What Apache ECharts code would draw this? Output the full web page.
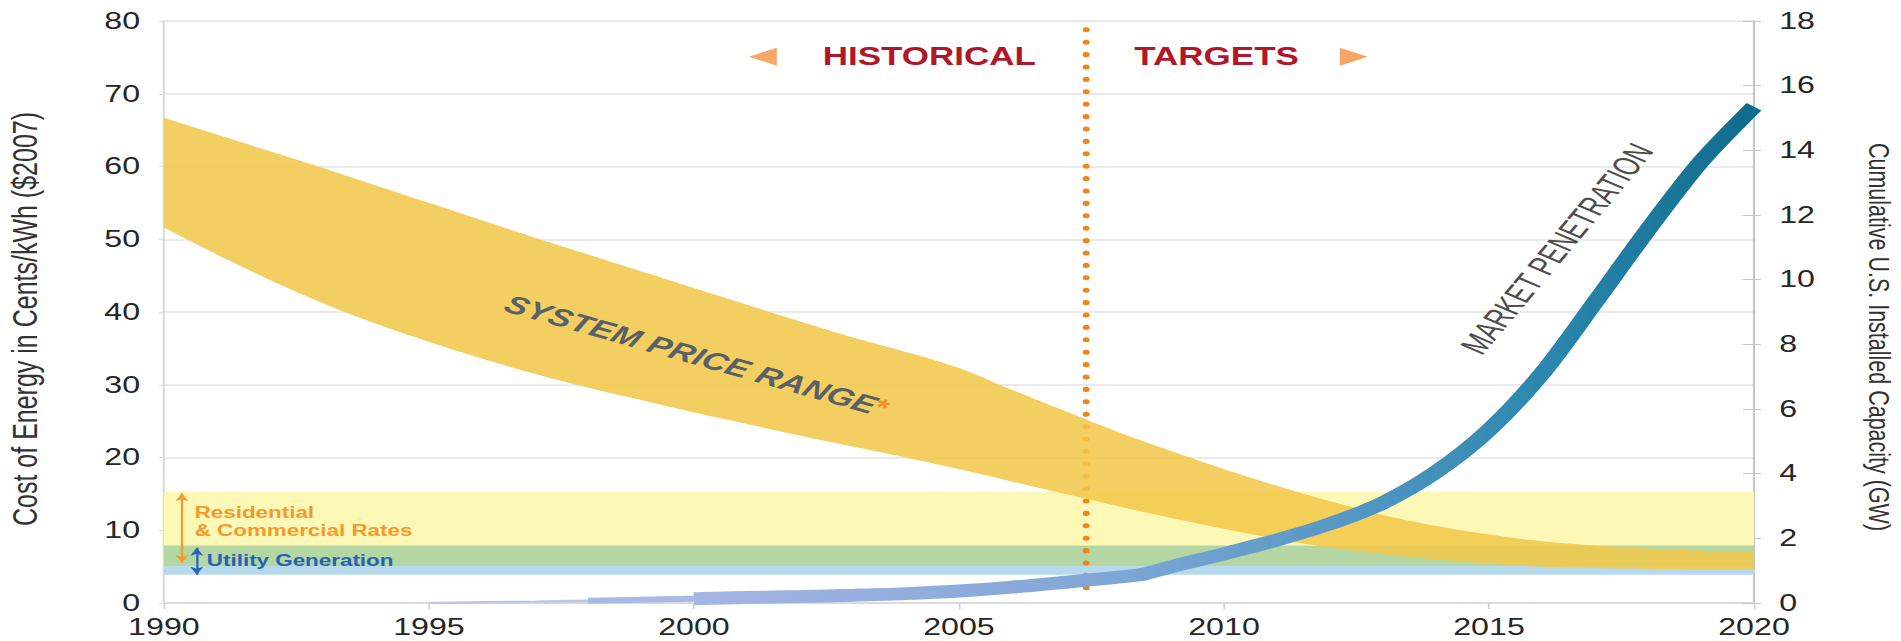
<!DOCTYPE html>
<html>
<head>
<meta charset="utf-8">
<script src="https://cdn.jsdelivr.net/npm/echarts/dist/echarts.min.js"></script>
<style>
html,body{margin:0;padding:0;background:#fff;overflow:hidden;}
#wrap{width:1901px;height:641px;overflow:hidden;position:relative;}
#chart{width:1358px;height:641px;transform:scaleX(1.39985);transform-origin:0 0;}
</style>
</head>
<body>
<div id="wrap"><div id="chart"></div></div>
<script>
// ---------- DATA ----------
const xTicks = [1990, 1995, 2000, 2005, 2010, 2015, 2020];
const leftTicks = [0, 10, 20, 30, 40, 50, 60, 70, 80];
const rightTicks = [0, 2, 4, 6, 8, 10, 12, 14, 16, 18];

const years = [1990,1991,1992,1993,1994,1995,1996,1997,1998,1999,2000,2001,2002,2003,2004,2005,2006,2007,2008,2009,2010,2011,2012,2013,2014,2015,2016,2017,2018,2019,2020];
// System price range (cents/kWh, $2007)
const priceLow  = [51.6,47.9,44.4,41.2,38.4,35.9,33.6,31.5,29.6,27.9,26.2,24.6,23.0,21.5,20.0,18.4,16.7,15.0,13.3,11.7,10.2,8.8,7.6,6.7,6.0,5.4,5.0,4.8,4.7,4.6,4.6];
const priceHigh = [66.7,64.4,62.1,59.8,57.4,55.0,52.6,50.2,47.9,45.6,43.3,41.0,38.7,36.5,34.5,32.3,29.3,26.4,23.5,20.9,18.4,16.1,14.0,12.1,10.6,9.4,8.5,7.9,7.5,7.2,7.0];

// Market penetration (cumulative GW)
const mpYears  = [1995,1996,1997,1998,1999,2000,2001,2002,2003,2004,2005,2006,2007,2008,2008.5,2009,2010,2011,2012,2013,2014,2015,2016,2017,2018,2019,2020];
const mpValues = [0.0,0.02,0.04,0.07,0.10,0.13,0.17,0.20,0.24,0.29,0.37,0.49,0.64,0.80,0.90,1.12,1.52,1.95,2.45,3.10,4.05,5.35,7.1,9.3,11.55,13.65,15.35];

// Rate ranges (cents/kWh)
const residentialRange = [5.1, 15.3];
const utilityRange = [3.9, 7.9];

// Historical / targets divider
const dividerYear = 2007.4;
const dividerRange = [0.8, 78.8];

// ---------- CHART ----------
const FONT = "'Liberation Sans', Arial, Helvetica, sans-serif";
const chart = echarts.init(document.getElementById('chart'), null, {renderer: 'svg'});

const mpPairs = mpYears.map((y, i) => [y, mpValues[i]]);
const seg1 = mpPairs.filter(p => p[0] <= 1998);
const seg2 = mpPairs.filter(p => p[0] >= 1998 && p[0] <= 2000);
const seg3 = mpPairs.filter(p => p[0] >= 2000);

const overlap = [Math.max(residentialRange[0], utilityRange[0]), Math.min(residentialRange[1], utilityRange[1])];

// Catmull-Rom smoothing of pixel points (rendering only)
function smoothPts(p, steps) {
  const out = [];
  const n = p.length;
  for (let i = 0; i < n - 1; i++) {
    const p0 = p[Math.max(i - 1, 0)], p1 = p[i], p2 = p[i + 1], p3 = p[Math.min(i + 2, n - 1)];
    for (let s = 0; s < steps; s++) {
      const t = s / steps, t2 = t * t, t3 = t2 * t;
      const f = (a, b, c, d) => 0.5 * ((2 * b) + (-a + c) * t + (2 * a - 5 * b + 4 * c - d) * t2 + (-a + 3 * b - 3 * c + d) * t3);
      out.push([f(p0[0], p1[0], p2[0], p3[0]), f(p0[1], p1[1], p2[1], p3[1])]);
    }
  }
  out.push(p[n - 1]);
  return out;
}

const gridLineColor = '#e3e3e3';

const option = {
  animation: false,
  backgroundColor: '#ffffff',
  grid: { left: 117.1, right: 105, top: 21, bottom: 38, containLabel: false, outerBoundsMode: 'none' },
  xAxis: {
    type: 'value',
    min: xTicks[0], max: xTicks[xTicks.length - 1], interval: xTicks[1] - xTicks[0],
    splitLine: { show: false },
    axisLine: { show: true, lineStyle: { color: '#d6d6d6', width: 1.5 } },
    axisTick: { show: true, length: 6, lineStyle: { color: '#cfcfcf', width: 1.2 } },
    axisLabel: { color: '#262626', fontSize: 23, fontFamily: FONT, margin: 13, formatter: v => String(v) }
  },
  yAxis: [
    {
      type: 'value', position: 'left',
      min: leftTicks[0], max: leftTicks[leftTicks.length - 1], interval: leftTicks[1] - leftTicks[0],
      name: 'Cost of Energy in Cents/kWh ($2007)',
      nameLocation: 'middle', nameRotate: 90, nameGap: 87,
      nameTextStyle: { color: '#333', fontSize: 25, lineHeight: 25, fontFamily: FONT, padding: [0, 14, 0, 0] },
      splitLine: { show: true, lineStyle: { color: gridLineColor, width: 1.5 } },
      axisLine: { show: true, lineStyle: { color: '#d9d9d9', width: 1.5 } },
      axisTick: { show: true, length: 3.5, lineStyle: { color: '#dcdcdc' } },
      axisLabel: { color: '#262626', fontSize: 23, fontFamily: FONT, margin: 17 }
    },
    {
      type: 'value', position: 'right',
      min: rightTicks[0], max: rightTicks[rightTicks.length - 1], interval: rightTicks[1] - rightTicks[0],
      name: 'Cumulative U.S. Installed Capacity (GW)',
      nameLocation: 'middle', nameRotate: -90, nameGap: 79,
      nameTextStyle: { color: '#333', fontSize: 21.5, lineHeight: 21.5, fontFamily: FONT, padding: [0, 0, 0, 50] },
      splitLine: { show: false },
      axisLine: { show: true, lineStyle: { color: '#c6c6c6', width: 1.5 } },
      axisTick: { show: true, inside: true, length: 8, lineStyle: { color: '#c8c8c8' } },
      axisLabel: { color: '#262626', fontSize: 23, fontFamily: FONT, margin: 18 }
    },
    {
      type: 'value', position: 'right',
      min: rightTicks[0], max: rightTicks[rightTicks.length - 1], interval: rightTicks[1] - rightTicks[0],
      splitLine: { show: false },
      axisLine: { show: false },
      axisTick: { show: true, inside: false, length: 5, lineStyle: { color: '#c8c8c8' } },
      axisLabel: { show: false }
    }
  ],
  series: [
    // Rate bands
    {
      type: 'line', data: [], z: -1, silent: true,
      markArea: {
        silent: true,
        data: [
          [{ xAxis: xTicks[0], yAxis: overlap[1], itemStyle: { color: '#fdf8b6' } }, { xAxis: xTicks[xTicks.length - 1], yAxis: residentialRange[1] }],
          [{ xAxis: xTicks[0], yAxis: overlap[0], itemStyle: { color: '#b4d6a3' } }, { xAxis: xTicks[xTicks.length - 1], yAxis: overlap[1] }],
          [{ xAxis: xTicks[0], yAxis: utilityRange[0], itemStyle: { color: '#b6d9ec' } }, { xAxis: xTicks[xTicks.length - 1], yAxis: overlap[0] }]
        ]
      }
    },
    // Divider dotted line
    {
      type: 'line', z: 1.5, silent: true, symbol: 'none',
      data: [[dividerYear, dividerRange[1]], [dividerYear, dividerRange[0]]],
      lineStyle: { color: '#f08519', width: 5, type: [0.1, 12.3], cap: 'round' }
    },
    // System price range band
    {
      type: 'custom', coordinateSystem: 'cartesian2d', z: 2, silent: true, clip: true,
      data: years.map((y, i) => [y, priceLow[i], priceHigh[i]]),
      encode: { x: 0, y: [1, 2] },
      renderItem: function (params, api) {
        if (params.dataIndex !== 0) return null;
        const up = years.map((y, i) => api.coord([y, priceHigh[i]]));
        const lo = years.map((y, i) => api.coord([y, priceLow[i]]));
        const pts = smoothPts(up, 10).concat(smoothPts(lo, 10).reverse());
        return { type: 'polygon', shape: { points: pts }, style: { fill: '#f1c84b', opacity: 0.88 } };
      }
    },
    // Market penetration line (tapered start)
    {
      type: 'line', yAxisIndex: 1, z: 3, silent: true, symbol: 'none', smooth: 0.3,
      data: seg1, lineStyle: { width: 2.5, color: '#bcc5ec' }
    },
    {
      type: 'line', yAxisIndex: 1, z: 3, silent: true, symbol: 'none', smooth: 0.3,
      data: seg2, lineStyle: { width: 6, color: '#aab8e6' }
    },
    {
      type: 'line', yAxisIndex: 1, z: 3, silent: true, symbol: 'none', smooth: 0.3,
      data: seg3,
      lineStyle: {
        width: 13, cap: 'butt',
        color: new echarts.graphic.LinearGradient(0, 0, 1, 0, [
          { offset: 0, color: '#a5b5e4' },
          { offset: 0.4, color: '#7fa6d6' },
          { offset: 0.62, color: '#5497c4' },
          { offset: 0.8, color: '#2b87ae' },
          { offset: 1, color: '#0f6c8c' }
        ])
      }
    },
    // Annotations
    {
      type: 'line', data: [], z: 6, silent: true,
      markPoint: {
        silent: true, symbol: 'circle', symbolSize: 0, animation: false,
        data: [
          { coord: [2004.44, 75.15], label: { show: true, position: 'inside', formatter: 'HISTORICAL', color: '#b0182a', fontSize: 25, fontWeight: 'bold', fontFamily: FONT } },
          { coord: [2009.86, 75.15], label: { show: true, position: 'inside', formatter: 'TARGETS', color: '#b0182a', fontSize: 25, fontWeight: 'bold', fontFamily: FONT } },
          { coord: [2001.3, 75.1], symbol: 'triangle', symbolRotate: 90, symbolSize: [18, 20], itemStyle: { color: '#f5a866' }, label: { show: false } },
          { coord: [2012.45, 75.1], symbol: 'triangle', symbolRotate: -90, symbolSize: [18, 20], itemStyle: { color: '#f5a866' }, label: { show: false } },
          { coord: [2000.06, 34.0], label: { show: true, position: 'inside', rotate: -21.5,
              formatter: '{t|SYSTEM PRICE RANGE}{a|*}',
              rich: {
                t: { color: '#59606a', fontSize: 25, fontWeight: 'bold', fontStyle: 'italic', fontFamily: FONT },
                a: { color: '#f39221', fontSize: 24, fontWeight: 'bold', fontFamily: FONT, verticalAlign: 'top' }
              } } },
          { coord: [1990.58, 11.25], label: { show: true, position: 'right', distance: 0, align: 'left', formatter: 'Residential\n& Commercial Rates', color: '#f39a2b', fontSize: 16, fontWeight: 'bold', lineHeight: 18, fontFamily: FONT } },
          { coord: [1990.81, 5.9], label: { show: true, position: 'right', distance: 0, align: 'left', formatter: 'Utility Generation', color: '#2563b6', fontSize: 16, fontWeight: 'bold', fontFamily: FONT } }
        ]
      },
      markLine: {
        silent: true, animation: false, label: { show: false },
        symbol: ['arrow', 'arrow'], symbolSize: [7, 8],
        data: [
          [{ coord: [1990.34, residentialRange[1] - 0.2], lineStyle: { color: '#f39a2b', width: 1.6, type: 'solid' } }, { coord: [1990.34, 5.5] }],
          [{ coord: [1990.62, utilityRange[1] - 0.3], lineStyle: { color: '#2563b6', width: 1.6, type: 'solid' } }, { coord: [1990.62, utilityRange[0]] }]
        ]
      }
    }
  ]
};
chart.setOption(option);

// Condensed rotated label for the market penetration curve, anchored in data space
const mpLabelPos = chart.convertToPixel({ xAxisIndex: 0, yAxisIndex: 0 }, [2016.28, 48.7]);
chart.setOption({
  graphic: [{
    type: 'text', silent: true, z: 20,
    x: mpLabelPos[0], y: mpLabelPos[1],
    rotation: 59 * Math.PI / 180, scaleX: 0.76,
    style: { text: 'MARKET PENETRATION', fill: '#4d4d4d', fontSize: 27.5, fontFamily: FONT,
             align: 'center', verticalAlign: 'middle', textAlign: 'center', textVerticalAlign: 'middle' }
  }]
});
</script>
</body>
</html>
